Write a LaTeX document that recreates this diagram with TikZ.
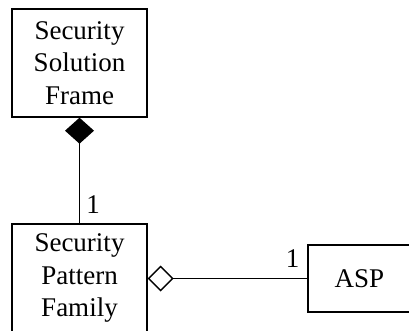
\documentclass[tikz,border=0pt]{standalone}
\usepackage{fontspec}
\setmainfont{Liberation Serif}
\usetikzlibrary{arrows.meta}
\begin{document}
\begin{tikzpicture}[x=1pt,y=-1pt,
  cls/.style={draw,line width=1.4pt,inner sep=0pt,align=center,
    font=\fontsize{27}{32.5}\selectfont},
  mult/.style={inner sep=0pt,font=\fontsize{27}{32}\selectfont},
  assoc/.style={line width=1.4pt}]
  \useasboundingbox (0,0) rectangle (409,330);
  \clip (0,0) rectangle (409,330);
  % classes
  \node[cls,minimum width=135pt,minimum height=108pt] (frame) at (79.5,63)
    {Security\\Solution\\Frame};
  \node[cls,minimum width=135pt,minimum height=108pt] (family) at (79.5,278)
    {Security\\Pattern\\Family};
  \node[cls,minimum width=103pt,minimum height=67pt] (asp) at (359.5,278.5)
    {ASP};
  % composition: frame owns the family
  \draw[assoc,{Diamond[length=26pt,width=29pt]}-] (frame.south) -- (family.north);
  % aggregation: family holds an ASP
  \draw[assoc,{Diamond[open,length=26pt,width=26pt]}-] (family.east|-asp.west) -- (asp.west);
  % multiplicities
  \node[mult] (m1) at (93,205) {1};
  \node[mult] (m2) at (292.5,259) {1};
\end{tikzpicture}
\end{document}
